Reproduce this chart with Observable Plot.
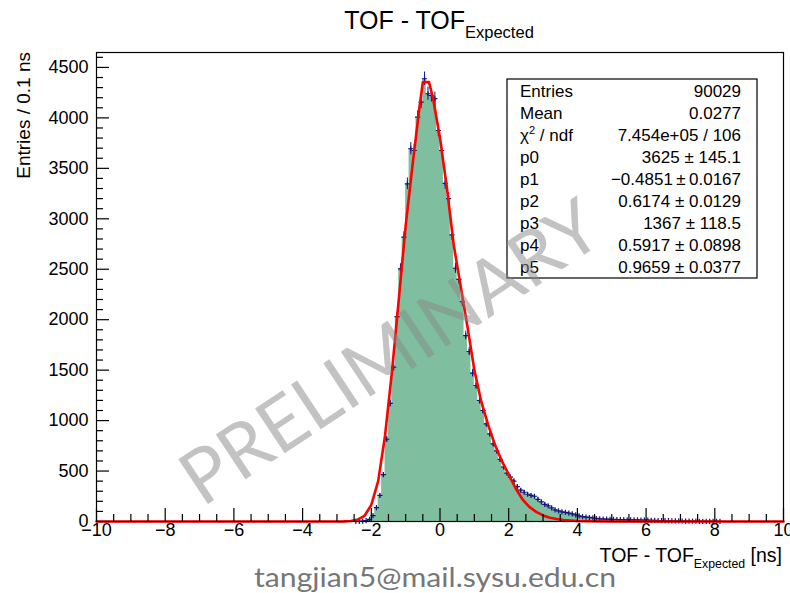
<!DOCTYPE html>
<html><head><meta charset="utf-8">
<script src="https://cdn.jsdelivr.net/npm/d3@7"></script>
<script src="https://cdn.jsdelivr.net/npm/@observablehq/plot@0.6"></script>
<style>
body{margin:0;background:#fff;}
#chart{width:790px;height:593px;}
</style></head><body><div id="chart"></div>
<script>
// ---- data ----
const binWidth = 0.1;
const firstBinCenter = -2.45;
const binCounts = [
  1, 2, 4, 8, 22, 58, 138, 258, 464, 815,
  1170, 1530, 2030, 2504, 2818, 3347, 3694, 3677, 4007, 4156,
  4388, 4239, 4222, 4190, 3875, 3677, 3350, 3200, 2840, 2510,
  2400, 2180, 1843, 1685, 1470, 1348, 1199, 1100, 968, 869,
  770, 700, 615, 540, 480, 440, 400, 345, 310, 290,
  270, 258, 250, 220, 195, 170, 155, 135, 115, 105,
  95, 90, 83, 76, 65, 55, 48, 43, 40, 36,
  30, 26, 25, 23, 22, 21, 20, 19, 18, 17,
  17, 16, 16, 15, 14, 13, 12, 11, 10, 10,
  9, 8, 7, 6, 6, 5, 4, 4, 3, 3,
  2, 2, 2, 1, 1, 1, 1
];
const fitX = [-10, -3.2, -3.0, -2.8, -2.6, -2.4, -2.2, -2.0, -1.8, -1.6, -1.4, -1.2, -1.0, -0.8, -0.6, -0.5, -0.32, -0.2, 0.0, 0.2, 0.4, 0.6, 0.8, 1.0, 1.2, 1.4, 1.6, 1.8, 2.0, 2.2, 2.4, 2.6, 2.8, 3.0, 3.2, 3.4, 3.6, 3.8, 4.0, 4.4, 5.0, 10];
const fitY = [0, 0, 0.5, 1.5, 5, 18, 55, 165, 400, 850, 1480, 2200, 2930, 3530, 4100, 4354, 4354, 4190, 3800, 3310, 2740, 2335, 1930, 1500, 1190, 960, 760, 600, 465, 330, 220, 145, 95, 60, 38, 24, 15, 10, 5, 2, 0.5, 0];
const xMajorTicks = [-10, -8, -6, -4, -2, 0, 2, 4, 6, 8, 10];
const yMajorTicks = [0, 500, 1000, 1500, 2000, 2500, 3000, 3500, 4000, 4500];
const statsLabels = ["Entries", "Mean", "χ2 / ndf", "p0", "p1", "p2", "p3", "p4", "p5"];
const statsValues = ["90029", "0.0277", "7.454e+05 / 106", "3625 \u00b1 145.1", "\u22120.4851\u2009\u00b1\u20090.0167", "0.6174 \u00b1 0.0129", "1367 \u00b1 118.5", "0.5917 \u00b1 0.0898", "0.9659 \u00b1 0.0377"];
const titleMain = "TOF - TOF", titleSub = "Expected";
const xTitleUnit = " [ns]";
const yTitle = "Entries / 0.1 ns";
const watermark = "PRELIMINARY";
const footer = "tangjian5@mail.sysu.edu.cn";

// ---- build ----
const bins = binCounts.map((n, i) => ({x: firstBinCenter + i * binWidth, n}));
const fit = fitX.map((x, i) => ({x, y: fitY[i]}));
const xMinorTicks = d3.range(-10, 10.001, 0.5).filter(v => Math.abs(v % 2) > 1e-9);
const yMinorTicks = d3.range(0, 4650, 100).filter(v => v % 500 !== 0);
const W = 790, H = 593, mL = 96, mR = 7, mT = 52, mB = 72;
const innerW = W - mL - mR, innerH = H - mT - mB;
const fmt = d => (d < 0 ? "\u2212" : "") + Math.abs(d);
const blue = "#14147e";
const font = "'Liberation Sans', Arial, sans-serif";

const chart = Plot.plot({
  width: W, height: H,
  marginLeft: mL, marginRight: mR, marginTop: mT, marginBottom: mB,
  x: {domain: [-10, 10]},
  y: {domain: [0, 4648]},
  style: {fontFamily: font, fontSize: "18px", background: "white", color: "black", overflow: "visible"},
  marks: [
    Plot.areaY(bins, {x: "x", y: "n", curve: "step", fill: "#7fbf9f"}),
    Plot.ruleX(bins.filter(d => d.n > 0), {x: "x", y1: d => d.n - Math.sqrt(d.n), y2: d => d.n + Math.sqrt(d.n), stroke: blue, strokeWidth: 1}),
    Plot.dot(bins.filter(d => d.n > 0), {x: "x", y: "n", symbol: "plus", r: 1.8, stroke: blue, strokeWidth: 1.2}),
    Plot.line(fit, {x: "x", y: "y", stroke: "#ff0000", strokeWidth: 2.6}),
    Plot.ruleX(xMajorTicks, {insetTop: innerH - 13, stroke: "black", strokeWidth: 1.2}),
    Plot.ruleX(xMinorTicks, {insetTop: innerH - 7, stroke: "black", strokeWidth: 1.2}),
    Plot.ruleY(yMajorTicks, {insetRight: innerW - 13, stroke: "black", strokeWidth: 1.2}),
    Plot.ruleY(yMinorTicks, {insetRight: innerW - 7, stroke: "black", strokeWidth: 1.2}),
    Plot.axisX(xMajorTicks, {tickSize: 0, tickPadding: 2, tickFormat: fmt, label: null, fontSize: 18, fontFamily: font}),
    Plot.axisY(yMajorTicks, {tickSize: 0, tickPadding: 8, tickFormat: d => String(d), label: null, fontSize: 18, fontFamily: font}),
    Plot.frame({stroke: "black", strokeWidth: 1.2})
  ]
});
document.getElementById("chart").appendChild(chart);

const svg = d3.select(chart);

// title
const t = svg.append("text").attr("x", 439).attr("y", 29).attr("text-anchor", "middle")
  .attr("font-family", font).attr("font-size", 25).attr("fill", "black");
t.append("tspan").text(titleMain);
t.append("tspan").attr("dy", 9).attr("font-size", 16.5).text(titleSub);

// x title
const xt = svg.append("text").attr("x", 782).attr("y", 562).attr("text-anchor", "end")
  .attr("font-family", font).attr("font-size", 19.5).attr("fill", "black");
xt.append("tspan").text(titleMain);
xt.append("tspan").attr("dy", 6).attr("font-size", 12.3).text(titleSub);
xt.append("tspan").attr("dy", -6).text(xTitleUnit);

// y title
svg.append("text").attr("transform", "translate(30,52) rotate(-90)").attr("text-anchor", "end")
  .attr("font-family", font).attr("font-size", 19).attr("fill", "black").text(yTitle);

// stats box
const sb = svg.append("g").attr("font-family", font).attr("font-size", 17).attr("fill", "black");
sb.append("rect").attr("x", 507).attr("y", 79).attr("width", 250).attr("height", 199)
  .attr("fill", "white").attr("stroke", "black").attr("stroke-width", 1.2);
statsLabels.forEach((lab, i) => {
  const tx = sb.append("text").attr("x", 520).attr("y", 97 + 22 * i).attr("text-anchor", "start");
  if (lab.startsWith("χ2")) {
    tx.append("tspan").text("\u03c7");
    tx.append("tspan").attr("dy", -7).attr("font-size", 11).text("2");
    tx.append("tspan").attr("dy", 7).text(" / ndf");
  } else tx.text(lab);
  sb.append("text").attr("x", 741).attr("y", 97 + 22 * i).attr("text-anchor", "end").text(statsValues[i]);
});

// watermark
svg.append("text").attr("transform", "translate(390,352) rotate(-33.5)").attr("text-anchor", "middle")
  .attr("dy", "0.35em").attr("font-family", "Lato, 'Open Sans', sans-serif").attr("font-size", 75)
  .attr("fill", "#888").attr("opacity", 0.5).text(watermark);

// footer
svg.append("text").attr("x", 435).attr("y", 587).attr("text-anchor", "middle")
  .attr("font-family", "Lato, 'Open Sans', sans-serif").attr("font-size", 27)
  .attr("textLength", 362).attr("lengthAdjust", "spacingAndGlyphs")
  .attr("fill", "#767676").text(footer);
</script>
</body></html>
